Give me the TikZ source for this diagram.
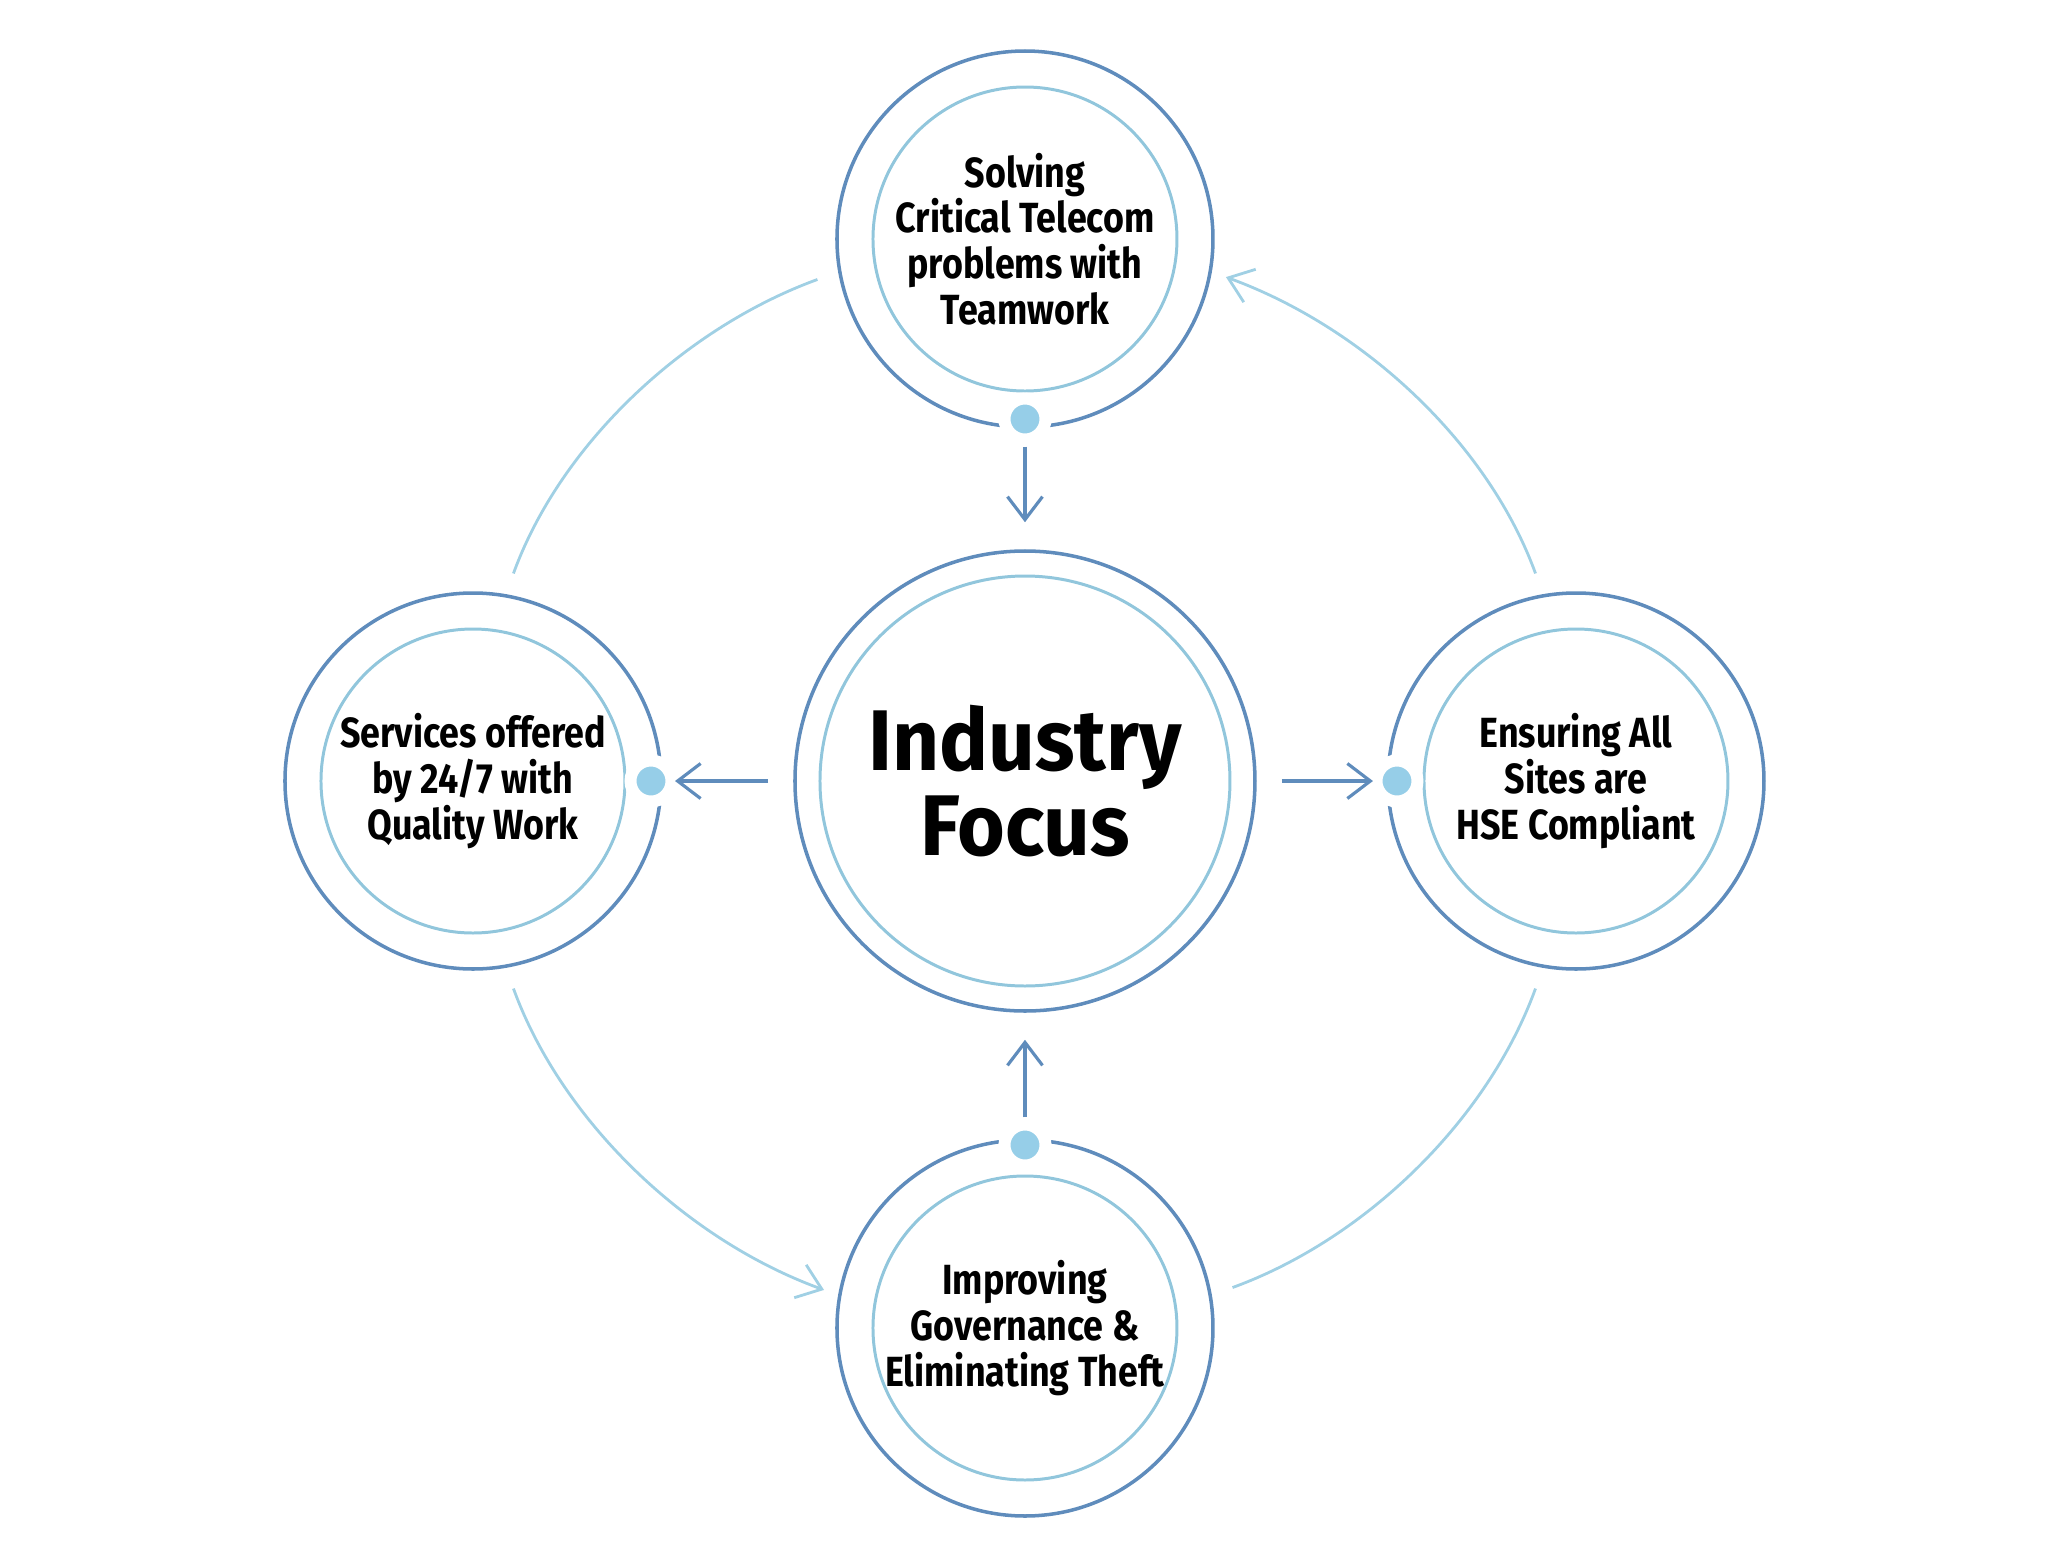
\documentclass[tikz,border=0pt]{standalone}
\usepackage{fontspec}
\setmainfont{Fira Sans}
\newfontfamily\satfont{Fira Sans}[FakeStretch=0.85]
\newfontfamily\hubfont{Fira Sans}[FakeStretch=0.95]
\usetikzlibrary{arrows.meta}
\definecolor{ringdark}{RGB}{95,140,188}
\definecolor{ringlight}{RGB}{145,198,220}
\definecolor{dotblue}{RGB}{150,206,232}
\definecolor{orbitblue}{RGB}{160,208,228}
\begin{document}
\begin{tikzpicture}[
  hub/.style={circle, draw=ringdark, line width=1pt, minimum size=4.6cm, inner sep=0pt, align=center,
    font=\hubfont\bfseries\fontsize{24.5}{24}\selectfont},
  sat/.style={circle, draw=ringdark, line width=1pt, minimum size=3.76cm, inner sep=0pt, align=center,
    font=\satfont\bfseries\fontsize{12}{13}\selectfont},
  inring/.style={draw=ringlight, line width=0.85pt},
  dot/.style={circle, fill=dotblue, draw=white, line width=3.4pt, minimum size=0.41cm, inner sep=0pt, outer sep=0pt},
  flow/.style={draw=ringdark, line width=0.9pt, -{Straight Barb[length=2.3mm, width=3.5mm]}},
  orbit/.style={draw=orbitblue, line width=0.8pt, looseness=0.893},
  orbitarr/.style={orbit, -{Straight Barb[length=2.3mm, width=3.5mm]}}
]
\useasboundingbox (-10.25,-7.68) rectangle (10.23,7.81);
% Centre
\node[hub] (focus) at (0,0) {Industry\\Focus};
\draw[inring] (focus.center) circle (2.05);
% Satellites
\node[sat] (solve) at (0,5.42) {Solving\\Critical Telecom\\problems with\\Teamwork};
\node[sat] (serve) at (-5.52,0) {Services offered\\by 24/7 with\\Quality Work};
\node[sat] (hse) at (5.51,0) {Ensuring All\\Sites are\\HSE Compliant};
\node[sat] (govern) at (0,-5.47) {Improving\\Governance \&\\Eliminating Theft};
\foreach \n in {solve,serve,hse,govern}
  \draw[inring] (\n.center) circle (1.52);
% Dots on the rings
\node[dot] (dsolve) at (0,3.62) {};
\node[dot] (dserve) at (-3.74,0) {};
\node[dot] (dhse) at (3.72,0) {};
\node[dot] (dgovern) at (0,-3.64) {};
% Arrows to and from the centre
\draw[flow, shorten <=2pt, shorten >=0.27cm] (dsolve) -- (focus);
\draw[flow, shorten <=0.25cm, shorten >=1pt] (focus) -- (dserve);
\draw[flow, shorten <=0.25cm, shorten >=1pt] (focus) -- (dhse);
\draw[flow, shorten <=2pt, shorten >=0.27cm] (dgovern) -- (focus);
% Orbit arcs between the satellites
\draw[orbit, shorten <=0.22cm, shorten >=0.22cm] (solve.190) to[out=200, in=70] (serve.80);
\draw[orbitarr, shorten <=0.22cm, shorten >=0.15cm] (serve.280) to[out=290, in=160] (govern.170);
\draw[orbit, shorten <=0.22cm, shorten >=0.22cm] (govern.10) to[out=20, in=250] (hse.260);
\draw[orbitarr, shorten <=0.22cm, shorten >=0.15cm] (hse.100) to[out=110, in=340] (solve.350);
\end{tikzpicture}
\end{document}
